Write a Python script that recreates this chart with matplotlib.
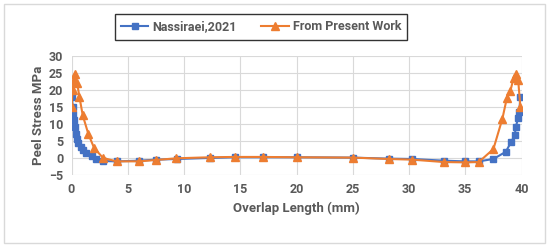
import matplotlib.pyplot as plt
from matplotlib.patches import Rectangle

plt.rcParams['font.family'] = ['Roboto', 'DejaVu Sans']

# Nassiraei, 2021
x_nas = [0.05, 0.1, 0.15, 0.2, 0.3, 0.4, 0.5, 0.6, 0.8, 1.0, 1.3, 1.8, 2.2, 2.8,
         4.0, 6.0, 7.5, 9.4, 12.3, 14.5, 17.0, 20.0, 25.0, 28.2, 30.3, 33.1,
         35.0, 36.2, 37.5, 38.6, 39.1, 39.4, 39.5, 39.7, 39.8, 39.9]
y_nas = [18, 15, 13, 11, 9, 7, 5.5, 4.5, 3.2, 2.2, 1.5, 0.5, -0.2, -0.9,
         -1.0, -0.8, -0.5, -0.3, 0.0, 0.2, 0.2, 0.2, 0.1, -0.2, -0.3, -0.8,
         -1.0, -1.0, -0.3, 1.8, 4.8, 6.7, 9.2, 11.7, 13.5, 18]

# From Present Work
x_pw = [0.0, 0.1, 0.2, 0.3, 0.5, 0.7, 1.0, 1.5, 2.0, 2.8,
        4.0, 6.0, 7.5, 9.3, 12.3, 14.5, 17.0, 20.0, 25.0, 28.2, 30.3, 33.1,
        35.0, 36.2, 37.5, 38.3, 38.7, 39.0, 39.3, 39.5, 39.7, 39.9]
y_pw = [15, 20, 23, 24.5, 22, 18, 12.5, 7, 3, 0,
        -1.0, -1.0, -0.6, -0.1, 0.2, 0.3, 0.3, 0.2, 0.1, -0.3, -0.5, -1.2,
        -1.3, -1.2, 2.6, 11.5, 17.6, 19.5, 23.5, 24.5, 23, 15]

blue = '#4472C4'
orange = '#ED7D31'
grey = '#595959'

fig = plt.figure(figsize=(5.5, 2.46), dpi=100)
ax = fig.add_axes([71.5 / 550, 1 - 175 / 246, 450 / 550, 119.3 / 246])

ax.plot(x_nas, y_nas, color=blue, marker='s', markersize=4.5, linewidth=1.5,
        label='Nassiraei,2021')
ax.plot(x_pw, y_pw, color=orange, marker='^', markersize=5.5, linewidth=1.5,
        label='From Present Work')

ax.set_xlim(0, 40)
ax.set_ylim(-5, 30)
ax.set_xticks(range(0, 41, 5))
ax.set_yticks(range(-5, 31, 5))
ax.grid(True, color='#D9D9D9', linewidth=0.8)
ax.set_axisbelow(True)
for s in ax.spines.values():
    s.set_visible(False)
ax.tick_params(length=0, labelsize=9, labelcolor=grey, pad=6)
for lab in ax.get_xticklabels() + ax.get_yticklabels():
    lab.set_fontweight('bold')

ax.set_xlabel('Overlap Length (mm)', fontsize=9.5, fontweight='bold', color=grey, labelpad=4)
ax.set_ylabel('Peel Stress MPa', fontsize=9.5, fontweight='bold', color=grey, labelpad=3)

leg = fig.legend(loc='center', bbox_to_anchor=(261 / 550, 1 - 27 / 246), ncol=2,
                 fontsize=9, frameon=True, fancybox=False, edgecolor='black',
                 handlelength=2.2, handletextpad=0.3, columnspacing=2.0,
                 borderpad=0.5, borderaxespad=0)
leg.get_frame().set_linewidth(1.0)
for t in leg.get_texts():
    t.set_color(grey)
    t.set_fontweight('bold')

fig.patches.append(Rectangle((4 / 550, 3 / 246), 541 / 550, 239 / 246,
                             transform=fig.transFigure, fill=False,
                             edgecolor='#D9D9D9', linewidth=1.0))

fig.savefig('out.png', dpi=100)
